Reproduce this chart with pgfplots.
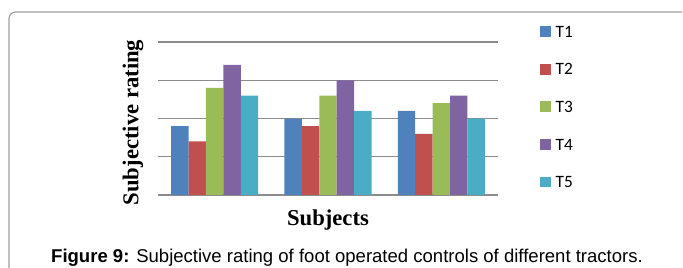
\documentclass[border=0pt]{standalone}
\usepackage{pgfplots}
\pgfplotsset{compat=1.18}
\usepackage{fontspec}
\setmainfont{Liberation Serif}
\newfontfamily\arialf{Liberation Sans}
\newfontfamily\calibrif{Carlito}
\definecolor{cT1}{HTML}{4F81BD}
\definecolor{cT2}{HTML}{C0504D}
\definecolor{cT3}{HTML}{9BBB59}
\definecolor{cT4}{HTML}{8064A2}
\definecolor{cT5}{HTML}{4BACC6}
\definecolor{gridc}{HTML}{8C8C8C}
\definecolor{framec}{HTML}{A0A0A0}
\newcommand\px[2]{({(#1)*0.75pt},{(268-(#2))*0.75pt})}
\begin{document}
\begin{tikzpicture}
\useasboundingbox \px{0}{268} rectangle \px{683}{0};
\draw[framec, line width=0.9pt, rounded corners=5pt] \px{9}{270} -- \px{9}{12} -- \px{682}{12};
\begin{axis}[
  at={(118.5pt,54.75pt)}, anchor=south west,
  scale only axis, width=255pt, height=114.75pt,
  xmin=-0.5, xmax=2.5, ymin=0, ymax=4,
  ybar=0pt, bar width=0.1536,
  xtick=\empty, ytick={0,1,2,3,4}, yticklabels={},
  ymajorgrids, grid style={gridc, line width=0.8pt},
  axis line style={draw=none}, major tick length=0pt,
  clip=false,
  xlabel={Subjects}, ylabel={Subjective rating},
  label style={font=\fontsize{17}{20}\selectfont\bfseries},
  xlabel style={at={(axis description cs:0.5,0)}, anchor=base, yshift=-23.25pt},
  ylabel style={at={(axis description cs:-0.0574,0.474)}, anchor=base},
  legend cell align=left,
  legend image code/.code={\fill[#1] (0pt,-4.1pt) rectangle (8.25pt,4.1pt);},
  legend style={draw=none, fill=none, at={(axis description cs:1.1235,1.1046)}, anchor=north west,
    inner sep=0pt, outer sep=0pt, row sep=19.8pt, column sep=3.5pt,
    font=\calibrif\fontsize{13}{15}\selectfont,
    nodes={inner sep=0pt, text height=8.4pt, text depth=0pt}},
]
\addplot[fill=cT1, draw=none] coordinates {(0,1.8) (1,2.0) (2,2.2)};
\addplot[fill=cT2, draw=none] coordinates {(0,1.4) (1,1.8) (2,1.6)};
\addplot[fill=cT3, draw=none] coordinates {(0,2.8) (1,2.6) (2,2.4)};
\addplot[fill=cT4, draw=none] coordinates {(0,3.4) (1,3.0) (2,2.6)};
\addplot[fill=cT5, draw=none] coordinates {(0,2.6) (1,2.2) (2,2.0)};
\legend{T1,T2,T3,T4,T5}
\end{axis}
\node[anchor=base, inner sep=0pt] at \px{347}{262.5} {\arialf\fontsize{13.9}{16}\selectfont\textbf{Figure 9:} Subjective rating of foot operated controls of different tractors.};
\end{tikzpicture}
\end{document}
